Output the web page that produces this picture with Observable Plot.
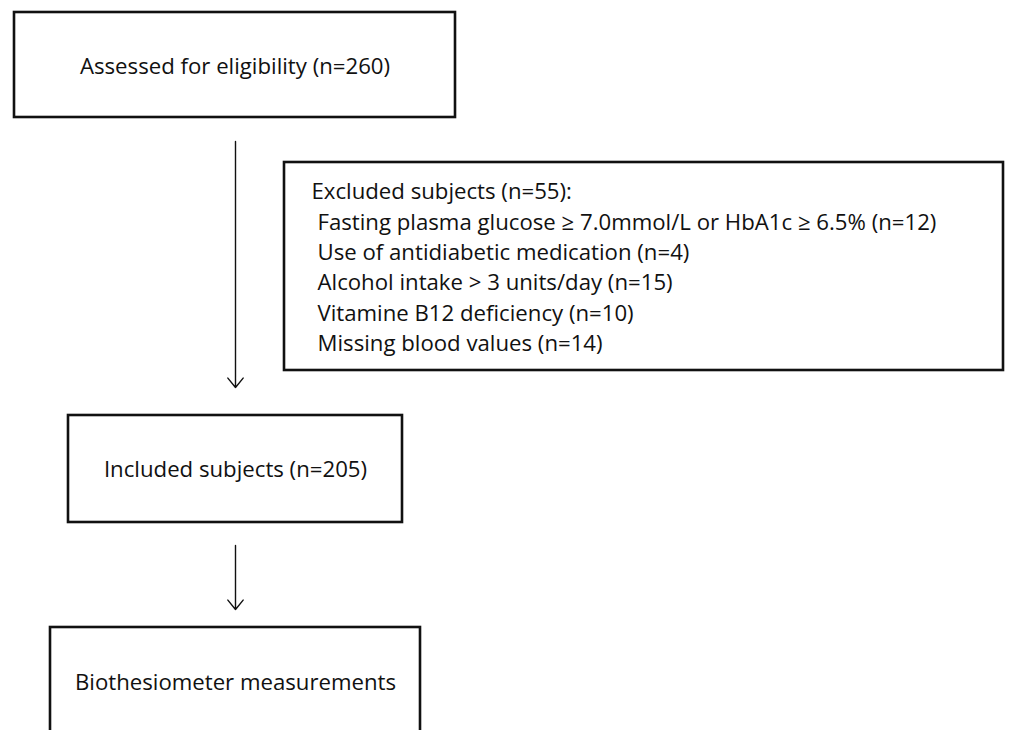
<!DOCTYPE html>
<html>
<head>
<meta charset="utf-8">
<script src="https://cdn.jsdelivr.net/npm/d3@7"></script>
<script src="https://cdn.jsdelivr.net/npm/@observablehq/plot@0.6"></script>
<style>
  html, body { margin: 0; padding: 0; background: #fff; }
  #chart svg { display: block; }
</style>
</head>
<body>
<div id="chart"></div>
<script>
// ---- data ----
const stepLabels = ["Assessed for eligibility", "Included subjects", "Biothesiometer measurements"];
const stepCounts = [260, 205, null];
const exclusionHeader = "Excluded subjects";
const exclusionTotal = 55;
const exclusionReasons = [
  "Fasting plasma glucose \u2265 7.0mmol/L or HbA1c \u2265 6.5%",
  "Use of antidiabetic medication",
  "Alcohol intake > 3 units/day",
  "Vitamine B12 deficiency",
  "Missing blood values"
];
const exclusionCounts = [12, 4, 15, 10, 14];

// ---- layout (pixel space of the 1009x730 canvas) ----
const W = 1009, H = 730;
const stepBoxes = [
  {x1: 14, x2: 455, y1: 12, y2: 117, ty: 66},
  {x1: 68, x2: 402, y1: 415, y2: 522, ty: 469},
  {x1: 50, x2: 420, y1: 627, y2: 800, ty: 682}
];
const exclBox = {x1: 284, x2: 1003, y1: 162, y2: 370};
const cx = 235;
const FONT = "'Open Sans', Lato, sans-serif";

const boxes = [...stepBoxes, exclBox];
const stepText = stepLabels.map((s, i) => ({
  label: stepCounts[i] == null ? s : `${s} (n=${stepCounts[i]})`,
  x: (stepBoxes[i].x1 + stepBoxes[i].x2) / 2,
  y: stepBoxes[i].ty
}));
const exclText = [
  {label: `${exclusionHeader} (n=${exclusionTotal}):`, x: 311, y: 191.5},
  ...exclusionReasons.map((r, i) => ({label: `${r} (n=${exclusionCounts[i]})`, x: 317, y: 222 + i * 30.4}))
];
const arrows = [
  {x1: cx, y1: 141, x2: cx, y2: 387},
  {x1: cx, y1: 545, x2: cx, y2: 609}
];

const chart = Plot.plot({
  width: W, height: H,
  margin: 0,
  x: {domain: [0, W], range: [0, W], axis: null},
  y: {domain: [0, H], range: [0, H], axis: null},
  style: {background: "#fff"},
  marks: [
    Plot.rect(boxes, {x1: "x1", x2: "x2", y1: "y1", y2: "y2", fill: "white", stroke: "#111", strokeWidth: 2.6}),
    Plot.arrow(arrows, {x1: "x1", y1: "y1", x2: "x2", y2: "y2", stroke: "#111", strokeWidth: 1.4, headLength: 13, headAngle: 78}),
    Plot.text(stepText, {x: "x", y: "y", text: "label", textAnchor: "middle", fontSize: 22.2, fontFamily: FONT, fill: "#111"}),
    Plot.text(exclText, {x: "x", y: "y", text: "label", textAnchor: "start", fontSize: 22.2, fontFamily: FONT, fill: "#111"})
  ]
});
document.getElementById("chart").appendChild(chart);
</script>
</body>
</html>
